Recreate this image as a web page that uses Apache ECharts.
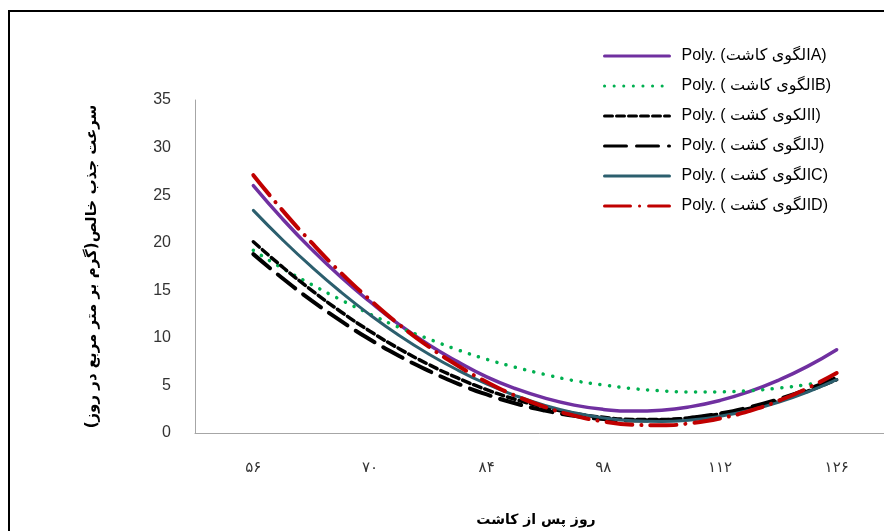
<!DOCTYPE html>
<html>
<head>
<meta charset="utf-8">
<script src="https://cdn.jsdelivr.net/npm/echarts@6/dist/echarts.min.js"></script>
<style>
  html, body { margin: 0; padding: 0; background: #fff; }
  #chart { width: 884px; height: 531px; }
</style>
</head>
<body>
<div id="chart"></div>
<script>
// Days after planting where each fitted curve is sampled
const days = [56, 59.5, 63, 66.5, 70, 73.5, 77, 80.5, 84, 87.5, 91, 94.5, 98, 101.5, 105, 108.5, 112, 115.5, 119, 122.5, 126];

// Net assimilation rate (g per m² per day), polynomial trend lines
const seriesA = [26.0, 22.5, 19.3, 16.4, 13.8, 11.4, 9.3, 7.5, 5.9, 4.65, 3.66, 2.93, 2.48, 2.3, 2.4, 2.77, 3.42, 4.34, 5.54, 7.0, 8.75];
const seriesB = [19.2, 17.3, 15.6, 14.0, 12.5, 11.1, 9.9, 8.75, 7.75, 6.9, 6.15, 5.5, 5.05, 4.67, 4.43, 4.31, 4.32, 4.45, 4.71, 5.1, 5.6];
const seriesI = [20.1, 17.45, 15.0, 12.75, 10.7, 8.86, 7.22, 5.79, 4.55, 3.52, 2.7, 2.07, 1.65, 1.43, 1.42, 1.61, 2.0, 2.59, 3.39, 4.39, 5.6];
const seriesJ = [18.8, 16.26, 13.92, 11.78, 9.83, 8.09, 6.55, 5.2, 4.05, 3.1, 2.36, 1.81, 1.46, 1.31, 1.35, 1.6, 2.05, 2.7, 3.54, 4.58, 5.83];
const seriesC = [23.4, 20.31, 17.45, 14.82, 12.42, 10.25, 8.32, 6.62, 5.15, 3.91, 2.9, 2.13, 1.59, 1.28, 1.2, 1.36, 1.75, 2.37, 3.22, 4.31, 5.62];
const seriesD = [27.1, 23.4, 20.0, 16.85, 14.0, 11.4, 9.1, 7.1, 5.36, 3.9, 2.73, 1.83, 1.21, 0.87, 0.81, 1.03, 1.53, 2.31, 3.37, 4.71, 6.3];

// Axis ticks
const xTickValues = [56, 70, 84, 98, 112, 126];
const xTickLabels = ['۵۶', '۷۰', '۸۴', '۹۸', '۱۱۲', '۱۲۶'];

const names = [
  'Poly. (الگوی کاشتA)',
  'Poly. ( الگوی کاشتB)',
  'Poly. ( الکوی کشتI)',
  'Poly. ( الگوی کشتJ)',
  'Poly. ( الگوی کشتC)',
  'Poly. ( الگوی کشتD)'
];

function pairs(vals) {
  return days.map((d, i) => [d, vals[i]]);
}

function lineSeries(name, vals, lineStyle) {
  return {
    name: name,
    type: 'line',
    data: pairs(vals),
    smooth: true,
    symbol: 'none',
    showSymbol: false,
    lineStyle: lineStyle,
    itemStyle: { color: lineStyle.color },
    emphasis: { disabled: true }
  };
}

const chart = echarts.init(document.getElementById('chart'), null, { renderer: 'canvas' });

chart.setOption({
  backgroundColor: '#ffffff',
  animation: false,
  graphic: [{
    type: 'rect',
    shape: { x: 9, y: 11, width: 900, height: 600 },
    style: { fill: 'none', stroke: '#000', lineWidth: 2 },
    silent: true
  }],
  grid: {
    left: 195, right: -11, top: 100, bottom: 98,
    containLabel: false,
    outerBoundsMode: 'none'
  },
  legend: {
    orient: 'vertical',
    left: 603,
    top: 48,
    padding: 0,
    itemWidth: 65,
    itemHeight: 16,
    itemGap: 14,
    selectedMode: false,
    itemStyle: { opacity: 0 },
    lineStyle: { width: 3 },
    textStyle: {
      fontFamily: 'Liberation Sans, DejaVu Sans, sans-serif',
      fontSize: 16,
      lineHeight: 16,
      color: '#000',
      padding: [0, 0, 0, 7]
    },
    data: names
  },
  xAxis: {
    type: 'value',
    min: 49,
    max: 133,
    name: 'روز پس از کاشت',
    nameLocation: 'middle',
    nameGap: 80,
    nameTextStyle: {
      fontFamily: 'DejaVu Sans, sans-serif',
      fontSize: 14,
      fontWeight: 'bold',
      color: '#000',
      padding: [0, 18, 0, 0]
    },
    axisLine: { show: true, onZero: false, lineStyle: { color: '#a6a6a6', width: 1 } },
    axisTick: { show: false },
    splitLine: { show: false },
    axisLabel: {
      customValues: xTickValues,
      margin: 28,
      fontFamily: 'DejaVu Sans, sans-serif',
      fontSize: 15,
      color: '#333',
      formatter: function (v) {
        const i = xTickValues.indexOf(v);
        return i >= 0 ? xTickLabels[i] : '';
      }
    }
  },
  yAxis: {
    type: 'value',
    min: 0,
    max: 35,
    interval: 5,
    name: 'سرعت جذب خالص(گرم بر متر مربع در روز)',
    nameLocation: 'middle',
    nameRotate: 90,
    nameGap: 95,
    nameTextStyle: {
      fontFamily: 'DejaVu Sans, sans-serif',
      fontSize: 15,
      fontWeight: 'bold',
      color: '#000'
    },
    axisLine: { show: true, lineStyle: { color: '#a6a6a6', width: 1 } },
    axisTick: { show: false },
    splitLine: { show: false },
    axisLabel: {
      margin: 24,
      fontFamily: 'Liberation Sans, Arial, sans-serif',
      fontSize: 16,
      color: '#333'
    }
  },
  series: [
    lineSeries(names[0], seriesA, { color: '#7030A0', width: 3.5, type: 'solid', cap: 'round' }),
    lineSeries(names[1], seriesB, { color: '#00B050', width: 3.5, type: [0.1, 9.5], cap: 'round' }),
    lineSeries(names[2], seriesI, { color: '#000000', width: 3.5, type: [8, 4], cap: 'round' }),
    lineSeries(names[3], seriesJ, { color: '#000000', width: 4, type: [22, 10], cap: 'round' }),
    lineSeries(names[4], seriesC, { color: '#2C5F6E', width: 3, type: 'solid', cap: 'round' }),
    lineSeries(names[5], seriesD, { color: '#C00000', width: 4, type: [26, 9, 0.1, 9], cap: 'round' })
  ]
});
</script>
</body>
</html>
